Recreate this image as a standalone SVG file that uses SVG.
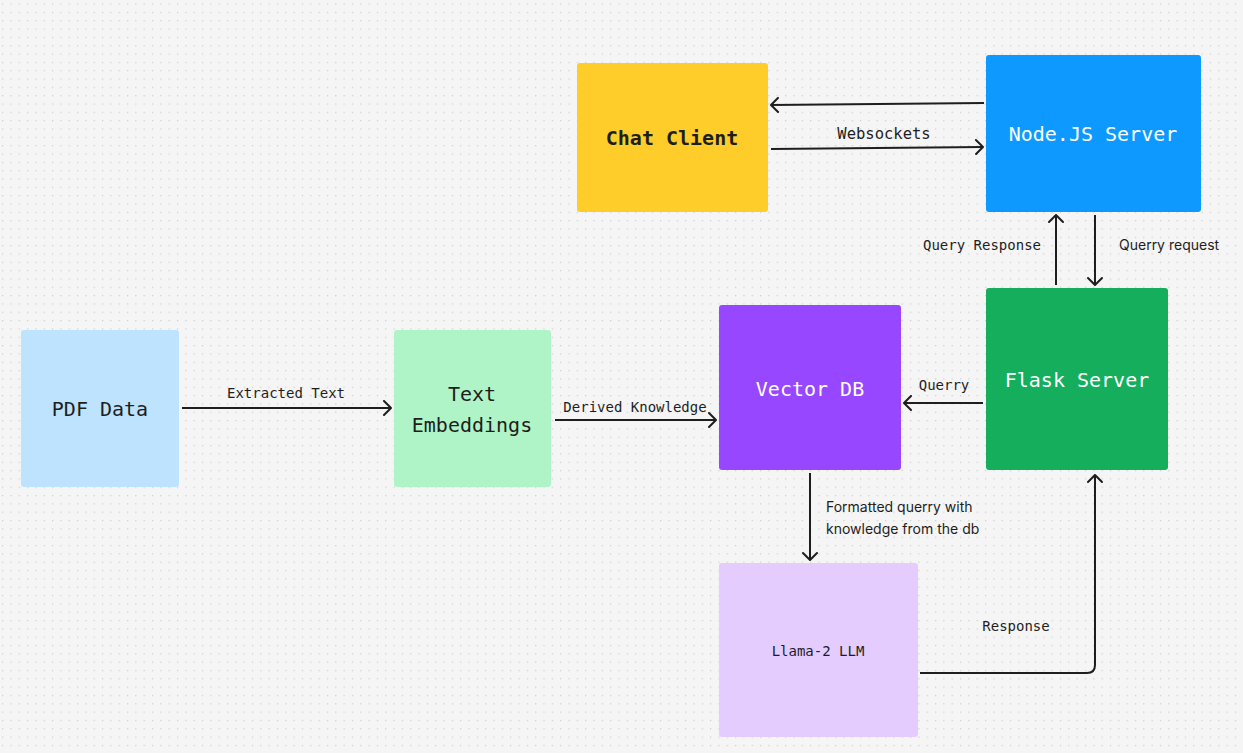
<svg xmlns="http://www.w3.org/2000/svg" width="1243" height="753" viewBox="0 0 1243 753">
<defs>
<pattern id="dots" x="2" y="3.5" width="8.33" height="8.33" patternUnits="userSpaceOnUse">
<rect x="0" y="0" width="1.2" height="1.2" fill="#cccccc"/>
</pattern>
<marker id="arr" viewBox="0 0 12 16" refX="11" refY="8" markerWidth="12" markerHeight="16" markerUnits="userSpaceOnUse" orient="auto">
<polyline points="4,1 11,8 4,15" fill="none" stroke="#1e1e1e" stroke-width="2" stroke-linecap="round" stroke-linejoin="round"/>
</marker>
</defs>
<style>
.node{stroke:none}
.t{font-family:"DejaVu Sans Mono","Liberation Mono",monospace;font-size:20px;text-anchor:middle;dominant-baseline:central}
.lbl{font-family:"DejaVu Sans Mono","Liberation Mono",monospace;font-size:14px;fill:#1e1e1e;dominant-baseline:central}
.sl{font-family:Inter,"Noto Sans",sans-serif;font-size:14px;fill:#1e1e1e;dominant-baseline:central}
.c{fill:none;stroke:#1e1e1e;stroke-width:2;marker-end:url(#arr)}
</style>
<rect width="1243" height="753" fill="#f5f5f5"/>
<rect width="1243" height="753" fill="url(#dots)"/>

<g id="chat-client"><rect class="node" x="577" y="63" width="191" height="149" rx="3" fill="#FFCD29"/><text class="t" x="672" y="138" fill="#1e1e1e" font-weight="bold">Chat Client</text></g>
<g id="node-server"><rect class="node" x="986" y="55" width="215" height="157" rx="3" fill="#0D99FF"/><text class="t" x="1093" y="134" fill="#ffffff">Node.JS Server</text></g>
<g id="flask-server"><rect class="node" x="986" y="288" width="182" height="182" rx="3" fill="#14AE5C"/><text class="t" x="1077" y="380" fill="#ffffff">Flask Server</text></g>
<g id="vector-db"><rect class="node" x="719" y="305" width="182" height="165" rx="3" fill="#9747FF"/><text class="t" x="810" y="389" fill="#ffffff">Vector DB</text></g>
<g id="llama"><rect class="node" x="719" y="563" width="199" height="174" rx="3" fill="#E4CCFF"/><text class="t" x="818" y="651" fill="#1e1e1e" style="font-size:14px">Llama-2 LLM</text></g>
<g id="pdf-data"><rect class="node" x="21" y="330" width="158" height="157" rx="3" fill="#BDE3FF"/><text class="t" x="100" y="409" fill="#1e1e1e">PDF Data</text></g>
<g id="text-embeddings"><rect class="node" x="394" y="330" width="157" height="157" rx="3" fill="#AFF4C6"/><text class="t" x="472" y="394" fill="#1e1e1e">Text</text><text class="t" x="472" y="425" fill="#1e1e1e">Embeddings</text></g>

<g id="connectors">
<line class="c" x1="984" y1="103" x2="771" y2="105"/>
<line class="c" x1="771" y1="149" x2="983" y2="147"/>
<line class="c" x1="1056" y1="285" x2="1056" y2="215"/>
<line class="c" x1="1095" y1="215" x2="1095" y2="285"/>
<line class="c" x1="983" y1="403" x2="904" y2="403"/>
<line class="c" x1="182" y1="408" x2="391" y2="408"/>
<line class="c" x1="555" y1="420" x2="716" y2="420"/>
<line class="c" x1="810" y1="473" x2="810" y2="560"/>
<path class="c" d="M920 673 H1087 Q1095 673 1095 665 V475"/>
<text class="lbl" x="884" y="134" text-anchor="middle" style="font-size:15.5px">Websockets</text>
<text class="lbl" x="982" y="245" text-anchor="middle">Query Response</text>
<text class="sl" x="1119" y="244">Querry request</text>
<text class="lbl" x="944" y="385" text-anchor="middle">Querry</text>
<text class="lbl" x="286" y="393" text-anchor="middle">Extracted Text</text>
<text class="lbl" x="635" y="407" text-anchor="middle">Derived Knowledge</text>
<text class="sl" x="826" y="506">Formatted querry with</text>
<text class="sl" x="826" y="528">knowledge from the db</text>
<text class="lbl" x="1016" y="626" text-anchor="middle">Response</text>
</g>
</svg>
